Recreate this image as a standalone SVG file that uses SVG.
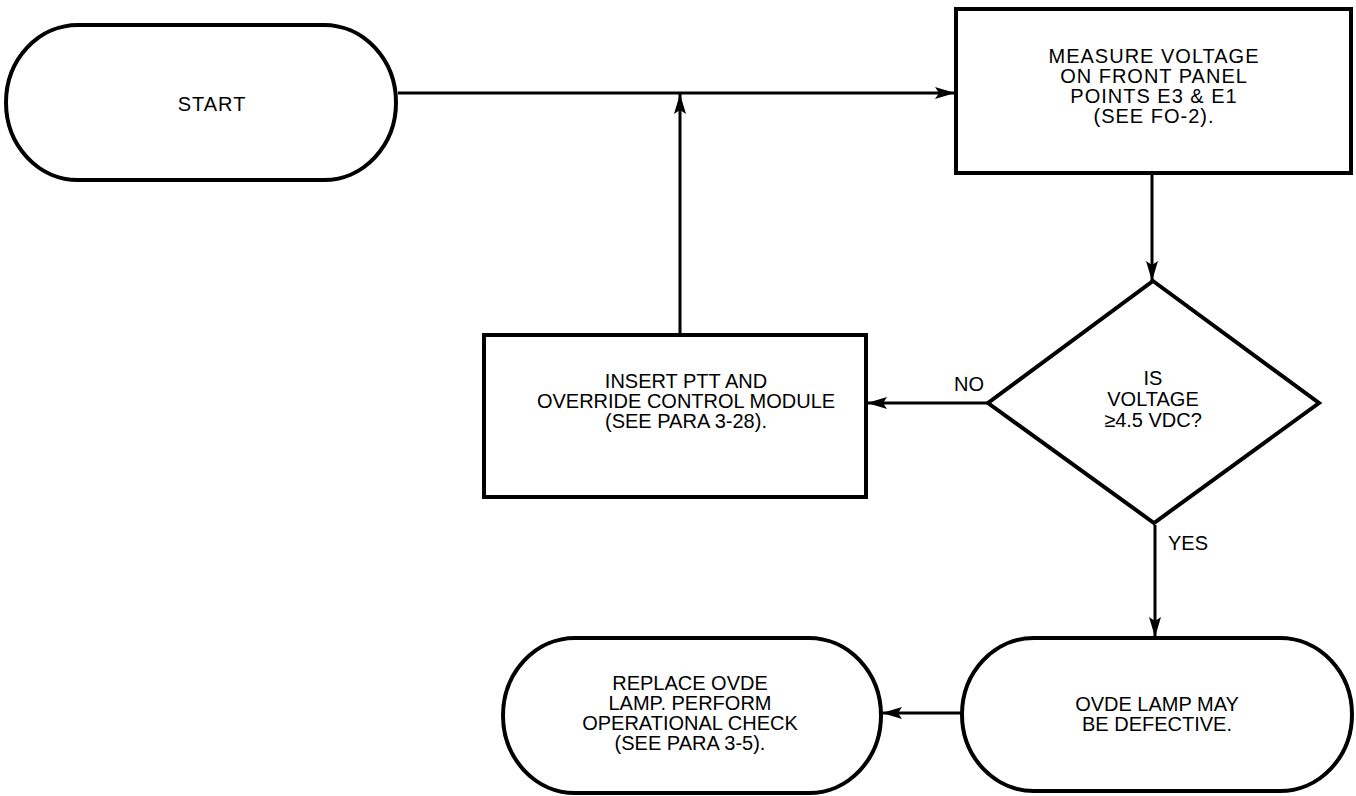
<svg xmlns="http://www.w3.org/2000/svg" width="1356" height="796" viewBox="0 0 1356 796">
<style>
.s{fill:#fff;stroke:#000;stroke-width:4;stroke-linejoin:miter}
.t{font-family:"Liberation Sans",Arial,sans-serif;font-size:20px;fill:#000;text-anchor:middle}
.w{letter-spacing:1px}
.l{font-family:"Liberation Sans",Arial,sans-serif;font-size:20px;fill:#000}
.c{fill:none;stroke:#000;stroke-width:3}
</style>
<defs>
<marker id="ah" markerUnits="userSpaceOnUse" markerWidth="21" markerHeight="14" refX="20" refY="7" orient="auto">
<path d="M0,1 L20,7 L0,13 L4,7 Z" fill="#000"/>
</marker>
</defs>
<rect width="1356" height="796" fill="#fff"/>
<g id="start">
<path class="s" d="M78,25 H324 A72,77.5 0 0 1 324,180 H78 A72,77.5 0 0 1 78,25 Z"/>
<text class="t w" x="212" y="111">START</text>
</g>
<g id="measure">
<rect class="s" x="956" y="9" width="395" height="164"/>
<text class="t w" x="1154" y="63">MEASURE VOLTAGE</text>
<text class="t w" x="1154" y="83">ON FRONT PANEL</text>
<text class="t w" x="1154" y="103">POINTS E3 &amp; E1</text>
<text class="t w" x="1154" y="123">(SEE FO-2).</text>
</g>
<g id="decision">
<polygon class="s" points="1153,281 1319,403 1154,523 988,403"/>
<text class="t" x="1153" y="385">IS</text>
<text class="t" x="1153" y="406">VOLTAGE</text>
<text class="t" x="1153" y="427">≥4.5 VDC?</text>
</g>
<g id="insert">
<rect class="s" x="484" y="335" width="382" height="162"/>
<text class="t" x="686" y="388">INSERT PTT AND</text>
<text class="t" x="686" y="408">OVERRIDE CONTROL MODULE</text>
<text class="t" x="686" y="428">(SEE PARA 3-28).</text>
</g>
<g id="defective">
<path class="s" d="M1034,638 H1280 A72,76.5 0 0 1 1280,791 H1034 A72,76.5 0 0 1 1034,638 Z"/>
<text class="t" x="1157" y="711">OVDE LAMP MAY</text>
<text class="t" x="1157" y="731">BE DEFECTIVE.</text>
</g>
<g id="replace">
<path class="s" d="M575,638 H809 A72,77.5 0 0 1 809,793 H575 A72,77.5 0 0 1 575,638 Z"/>
<text class="t" x="690" y="690">REPLACE OVDE</text>
<text class="t" x="690" y="710">LAMP. PERFORM</text>
<text class="t" x="690" y="730">OPERATIONAL CHECK</text>
<text class="t" x="690" y="750">(SEE PARA 3-5).</text>
</g>
<g id="connectors">
<line class="c" x1="398" y1="93" x2="955" y2="93" marker-end="url(#ah)"/>
<line class="c" x1="680" y1="333" x2="680" y2="94" marker-end="url(#ah)"/>
<line class="c" x1="1152" y1="175" x2="1152" y2="281" marker-end="url(#ah)"/>
<line class="c" x1="988" y1="403" x2="867" y2="403" marker-end="url(#ah)"/>
<line class="c" x1="1155" y1="525" x2="1155" y2="637" marker-end="url(#ah)"/>
<line class="c" x1="962" y1="713" x2="882" y2="713" marker-end="url(#ah)"/>
<text class="l" x="954" y="391">NO</text>
<text class="l" x="1168" y="550">YES</text>
</g>
</svg>
